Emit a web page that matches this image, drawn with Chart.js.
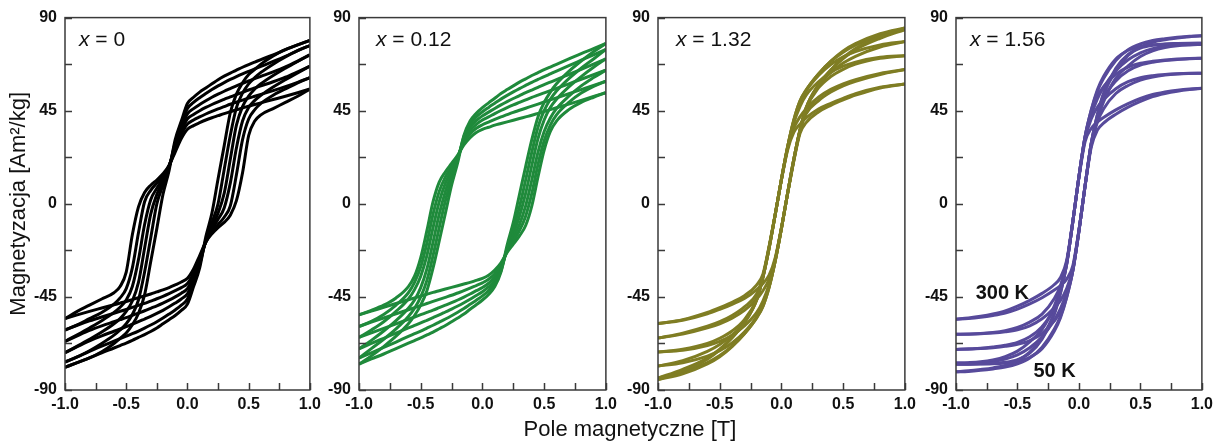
<!DOCTYPE html>
<html>
<head>
<meta charset="utf-8">
<script src="https://cdn.jsdelivr.net/npm/chart.js@4.4.1/dist/chart.umd.min.js"></script>
<style>
  html, body { margin: 0; padding: 0; background: #ffffff; }
  #figure { position: relative; width: 1232px; height: 445px; overflow: hidden; }
  #figure canvas { position: absolute; top: 0; }
  #xTitle {
    position: absolute; left: 380px; width: 500px; top: 417px;
    text-align: center; font: 22px/24px 'Liberation Sans', Arial, sans-serif; color: #111;
  }
</style>
</head>
<body>
<div id="figure">
  <canvas id="c0"></canvas>
  <canvas id="c1"></canvas>
  <canvas id="c2"></canvas>
  <canvas id="c3"></canvas>
  <div id="xTitle">Pole magnetyczne [T]</div>
</div>
<script>
// Magnetic field grids [T]
const fieldGridA = [-1.0, -0.9, -0.8, -0.7, -0.6, -0.55, -0.5, -0.45, -0.4, -0.35, -0.3, -0.25, -0.2, -0.15, -0.1, -0.05, 0.0, 0.05, 0.1, 0.15, 0.2, 0.25, 0.3, 0.35, 0.4, 0.45, 0.5, 0.55, 0.6, 0.7, 0.8, 0.9, 1.0];
const fieldGridB = [-1.0, -0.8, -0.6, -0.5, -0.4, -0.3, -0.2, -0.15, -0.1, -0.05, 0.0, 0.05, 0.1, 0.15, 0.2, 0.3, 0.4, 0.5, 0.6, 0.8, 1.0];
const fieldGridC = [-1.0, -0.9, -0.8, -0.7, -0.6, -0.5, -0.4, -0.3, -0.2, -0.15, -0.1, -0.05, 0.0, 0.05, 0.1, 0.15, 0.2, 0.3, 0.4, 0.5, 0.6, 0.7, 0.8, 0.9, 1.0];

const temperatures = ['50 K', '100 K', '150 K', '200 K', '250 K', '300 K'];
const compositions = ['0', '0.12', '1.32', '1.56'];

// Axis ticks
const fieldTicks = [-1.0, -0.5, 0.0, 0.5, 1.0];
const fieldTickLabels = ['-1.0', '-0.5', '0.0', '0.5', '1.0'];
const magTicks = [-90, -45, 0, 45, 90];
const magTickLabels = ['-90', '-45', '0', '45', '90'];

// x = 0 : magnetization [Am2/kg], field decreasing (dec) and increasing (inc), on fieldGridA
const x0_dec50  = [-79, -76.8, -74.5, -71.5, -67.5, -65, -62.5, -58.5, -53, -44, -28, -12, 4.5, 16, 31, 40, 48.5, 51.5, 54, 56, 58, 60, 61.7, 63.2, 64.6, 66, 67.3, 68.5, 69.7, 72, 74.5, 76.8, 79];
const x0_inc50  = [-79, -76.8, -74.5, -72, -69.7, -68.5, -67.3, -66, -64.6, -63.2, -61.7, -60, -58, -56, -54, -51.5, -48.5, -40, -31, -16, -4.5, 12, 28, 44, 53, 58.5, 62.5, 65, 67.5, 71.5, 74.5, 76.8, 79];
const x0_dec100 = [-76.5, -74, -71, -67.5, -63.5, -61, -58, -53.5, -46.5, -33, -16.5, 0, 9, 17.5, 29.5, 38.5, 46, 49, 51.3, 53.3, 55.2, 57, 58.6, 60.1, 61.5, 62.8, 64, 65.2, 66.4, 68.8, 71.3, 74, 76.5];
const x0_inc100 = [-76.5, -74, -71.3, -68.8, -66.4, -65.2, -64, -62.8, -61.5, -60.1, -58.6, -57, -55.2, -53.3, -51.3, -49, -46, -38.5, -29.5, -17.5, -9, 0, 16.5, 33, 46.5, 53.5, 58, 61, 63.5, 67.5, 71, 74, 76.5];
const x0_dec150 = [-72, -68.8, -65.5, -62, -58, -55.5, -52, -47, -38, -21.5, -5, 4.5, 11, 18, 28.5, 37, 43.5, 46, 48, 49.8, 51.5, 53, 54.4, 55.7, 57, 58.2, 59.4, 60.5, 61.6, 63.8, 66.2, 69, 72];
const x0_inc150 = [-72, -69, -66.2, -63.8, -61.6, -60.5, -59.4, -58.2, -57, -55.7, -54.4, -53, -51.5, -49.8, -48, -46, -43.5, -37, -28.5, -18, -11, -4.5, 5, 21.5, 38, 47, 52, 55.5, 58, 62, 65.5, 68.8, 72];
const x0_dec200 = [-66.5, -63.3, -60, -56.5, -52.5, -50, -46.5, -40, -27, -10, 2, 7.5, 12.5, 18.5, 27, 35, 41, 43.2, 45, 46.6, 48, 49.3, 50.5, 51.7, 52.8, 53.9, 55, 56, 57, 59, 61.2, 63.8, 66.5];
const x0_inc200 = [-66.5, -63.8, -61.2, -59, -57, -56, -55, -53.9, -52.8, -51.7, -50.5, -49.3, -48, -46.6, -45, -43.2, -41, -35, -27, -18.5, -12.5, -7.5, -2, 10, 27, 40, 46.5, 50, 52.5, 56.5, 60, 63.3, 66.5];
const x0_dec250 = [-61, -58.5, -55.5, -52.5, -48.5, -45.5, -41, -31, -14, 1, 6.5, 10, 13.5, 18.5, 26, 33.5, 38.5, 40.5, 42, 43.4, 44.7, 45.9, 47, 48.1, 49.1, 50.1, 51.1, 52, 52.9, 54.7, 56.6, 58.7, 61];
const x0_inc250 = [-61, -58.7, -56.6, -54.7, -52.9, -52, -51.1, -50.1, -49.1, -48.1, -47, -45.9, -44.7, -43.4, -42, -40.5, -38.5, -33.5, -26, -18.5, -13.5, -10, -6.5, -1, 14, 31, 41, 45.5, 48.5, 52.5, 55.5, 58.5, 61];
const x0_dec300 = [-55.5, -52, -49, -46, -43, -40, -33, -15, -1.5, 5.5, 9, 11.5, 14.5, 18.5, 25, 31.5, 36, 37.8, 39.2, 40.5, 41.6, 42.6, 43.6, 44.5, 45.4, 46.3, 47.2, 48, 48.8, 50.4, 52, 53.7, 55.5];
const x0_inc300 = [-55.5, -53.7, -52, -50.4, -48.8, -48, -47.2, -46.3, -45.4, -44.5, -43.6, -42.6, -41.6, -40.5, -39.2, -37.8, -36, -31.5, -25, -18.5, -14.5, -11.5, -9, -5.5, 1.5, 15, 33, 40, 43, 46, 49, 52, 55.5];

// x = 0.12, on fieldGridA
const x012_dec50  = [-77.5, -73.5, -69, -64, -58, -54, -49, -42, -31, -18, -4.5, 9, 20, 33, 40, 43.8, 46.5, 48.8, 51, 53.3, 55.2, 57, 58.8, 60.4, 62, 63.4, 64.8, 66.1, 67.4, 70, 72.6, 75, 77.5];
const x012_inc50  = [-77.5, -75, -72.6, -70, -67.4, -66.1, -64.8, -63.4, -62, -60.4, -58.8, -57, -55.2, -53.3, -51, -48.8, -46.5, -43.8, -40, -33, -20, -9, 4.5, 18, 31, 42, 49, 54, 58, 64, 69, 73.5, 77.5];
const x012_dec100 = [-74.6, -70, -65.5, -60.5, -54.5, -50.5, -45, -37, -25, -11.5, 1.5, 12, 21.5, 32.5, 38.5, 42, 44.5, 46.6, 48.6, 50.6, 52.4, 54.1, 55.7, 57.2, 58.7, 60.1, 61.5, 62.8, 64.1, 66.8, 69.4, 72, 74.6];
const x012_inc100 = [-74.6, -72, -69.4, -66.8, -64.1, -62.8, -61.5, -60.1, -58.7, -57.2, -55.7, -54.1, -52.4, -50.6, -48.6, -46.6, -44.5, -42, -38.5, -32.5, -21.5, -12, -1.5, 11.5, 25, 37, 45, 50.5, 54.5, 60.5, 65.5, 70, 74.6];
const x012_dec150 = [-70.1, -66, -61.5, -56.5, -50.5, -46.5, -40.5, -31.5, -18.5, -5, 6, 14.5, 22, 31.5, 37, 40.2, 42.5, 44.3, 46.1, 47.8, 49.4, 50.9, 52.3, 53.7, 55, 56.3, 57.6, 58.8, 60, 62.5, 65, 67.5, 70.1];
const x012_inc150 = [-70.1, -67.5, -65, -62.5, -60, -58.8, -57.6, -56.3, -55, -53.7, -52.3, -50.9, -49.4, -47.8, -46.1, -44.3, -42.5, -40.2, -37, -31.5, -22, -14.5, -6, 5, 18.5, 31.5, 40.5, 46.5, 50.5, 56.5, 61.5, 66, 70.1];
const x012_dec200 = [-64.6, -61, -57, -52, -46, -41.5, -35, -25, -11.5, 1, 10, 16.5, 22.5, 30.5, 35.4, 38.4, 40.5, 42, 43.6, 45.1, 46.5, 47.8, 49, 50.2, 51.4, 52.5, 53.6, 54.7, 55.8, 58, 60.2, 62.4, 64.6];
const x012_inc200 = [-64.6, -62.4, -60.2, -58, -55.8, -54.7, -53.6, -52.5, -51.4, -50.2, -49, -47.8, -46.5, -45.1, -43.6, -42, -40.5, -38.4, -35.4, -30.5, -22.5, -16.5, -10, -1, 11.5, 25, 35, 41.5, 46, 52, 57, 61, 64.6];
const x012_dec250 = [-59.3, -56.8, -53.5, -49, -43, -38, -30.5, -19, -5, 6, 13, 18, 23, 29.5, 33.8, 36.5, 38.2, 39.5, 40.8, 42, 43.1, 44.2, 45.2, 46.2, 47.2, 48.2, 49.2, 50.2, 51.2, 53.2, 55.2, 57.2, 59.3];
const x012_inc250 = [-59.3, -57.2, -55.2, -53.2, -51.2, -50.2, -49.2, -48.2, -47.2, -46.2, -45.2, -44.2, -43.1, -42, -40.8, -39.5, -38.2, -36.5, -33.8, -29.5, -23, -18, -13, -6, 5, 19, 30.5, 38, 43, 49, 53.5, 56.8, 59.3];
const x012_dec300 = [-53.7, -51.5, -49, -45.5, -40, -35, -26, -13, 1, 10.5, 15.5, 19.5, 23.5, 28.5, 32, 34.5, 36, 37, 38, 38.8, 39.6, 40.4, 41.2, 42, 42.8, 43.7, 44.6, 45.5, 46.4, 48.2, 50, 51.9, 53.7];
const x012_inc300 = [-53.7, -51.9, -50, -48.2, -46.4, -45.5, -44.6, -43.7, -42.8, -42, -41.2, -40.4, -39.6, -38.8, -38, -37, -36, -34.5, -32, -28.5, -23.5, -19.5, -15.5, -10.5, -1, 13, 26, 35, 40, 45.5, 49, 51.5, 53.7];

// x = 1.32, on fieldGridB
const x132_dec50  = [-85, -80.7, -75.1, -70.6, -64.7, -57.5, -46.4, -35.6, -21.5, -5.1, 11.9, 27.5, 40.4, 49.6, 55, 62.8, 69, 73.9, 77.4, 82.2, 85];
const x132_inc50  = [-85, -82.2, -77.4, -73.9, -69, -62.8, -55, -49.6, -40.4, -27.5, -11.9, 5.1, 21.5, 35.6, 46.4, 57.5, 64.7, 70.6, 75.1, 80.7, 85];
const x132_dec100 = [-84.2, -80, -74.5, -70.2, -64.7, -57.5, -46.4, -35.6, -21.5, -5.1, 11.9, 27.5, 40.4, 49.6, 55, 62.8, 68.8, 73.3, 76.7, 81.4, 84.2];
const x132_inc100 = [-84.2, -81.4, -76.7, -73.3, -68.8, -62.8, -55, -49.6, -40.4, -27.5, -11.9, 5.1, 21.5, 35.6, 46.4, 57.5, 64.7, 70.2, 74.5, 80, 84.2];
const x132_dec150 = [-78.4, -75.8, -71.3, -68, -63.5, -57, -46, -35.5, -21.5, -5.1, 11.9, 27.5, 40, 48.5, 54.5, 62, 67.3, 71, 73.6, 76.8, 78.4];
const x132_inc150 = [-78.4, -76.8, -73.6, -71, -67.3, -62, -54.5, -48.5, -40, -27.5, -11.9, 5.1, 21.5, 35.5, 46, 57, 63.5, 68, 71.3, 75.8, 78.4];
const x132_dec200 = [-71.6, -70.3, -67.5, -65, -61.5, -56, -46, -35.5, -21.3, -5.1, 11.9, 27.2, 39, 47, 52.5, 59, 63.5, 66.5, 68.5, 70.8, 71.6];
const x132_inc200 = [-71.6, -70.8, -68.5, -66.5, -63.5, -59, -52.5, -47, -39, -27.2, -11.9, 5.1, 21.3, 35.5, 46, 56, 61.5, 65, 67.5, 70.3, 71.6];
const x132_dec250 = [-64.9, -62.5, -59.2, -57, -54, -49.8, -43.5, -35, -20.8, -5, 11.6, 26.7, 36.5, 42, 46, 51.5, 55.3, 58, 60, 63, 64.9];
const x132_inc250 = [-64.9, -63, -60, -58, -55.3, -51.5, -46, -42, -36.5, -26.7, -11.6, 5, 20.8, 35, 43.5, 49.8, 54, 57, 59.2, 62.5, 64.9];
const x132_dec300 = [-57.9, -56, -52.5, -50.2, -47.6, -44.4, -39.2, -34, -20.6, -5, 11.6, 26, 34.5, 38.5, 41.5, 45.8, 48.6, 51, 53.2, 56.3, 57.9];
const x132_inc300 = [-57.9, -56.3, -53.2, -51, -48.6, -45.8, -41.5, -38.5, -34.5, -26, -11.6, 5, 20.6, 34, 39.2, 44.4, 47.6, 50.2, 52.5, 56, 57.9];

// x = 1.56, on fieldGridC
const x156_dec50  = [-81.2, -80.75, -80.1, -79.3, -78.1, -75.8, -71.7, -64.5, -52.7, -43, -29.2, -8.8, 13.2, 32.5, 45.1, 54.3, 60.5, 69.3, 74.5, 77.3, 78.9, 79.8, 80.5, 81, 81.2];
const x156_inc50  = [-81.2, -81, -80.5, -79.8, -78.9, -77.3, -74.5, -69.3, -60.5, -54.3, -45.1, -32.5, -13.2, 8.8, 29.2, 43, 52.7, 64.5, 71.7, 75.8, 78.1, 79.3, 80.1, 80.75, 81.2];
const x156_dec100 = [-77.6, -77.5, -77.35, -77.1, -76.6, -75.3, -72.2, -65.5, -53.4, -43.1, -29.2, -8.8, 13.2, 32.5, 45.4, 55.1, 61.5, 70, 74.2, 76.1, 76.9, 77.3, 77.45, 77.55, 77.6];
const x156_inc100 = [-77.6, -77.55, -77.45, -77.3, -76.9, -76.1, -74.2, -70, -61.5, -55.1, -45.4, -32.5, -13.2, 8.8, 29.2, 43.1, 53.4, 65.5, 72.2, 75.3, 76.6, 77.1, 77.35, 77.5, 77.6];
const x156_dec150 = [-77, -76.8, -76.4, -75.5, -73.9, -71.2, -66.7, -60.7, -49.3, -40.8, -28.9, -8.8, 13.2, 32, 42.7, 50.7, 56.2, 64.3, 69.6, 73, 75, 76.1, 76.7, 76.95, 77];
const x156_inc150 = [-77, -76.95, -76.7, -76.1, -75, -73, -69.6, -64.3, -56.2, -50.7, -42.7, -32, -13.2, 8.8, 28.9, 40.8, 49.3, 60.7, 66.7, 71.2, 73.9, 75.5, 76.4, 76.8, 77];
const x156_dec200 = [-70.4, -70.1, -69.8, -69.2, -68.4, -67, -64.3, -59.4, -50.6, -42, -29.2, -8.8, 13.2, 32.4, 44, 52, 56.6, 62.7, 66.1, 67.9, 68.9, 69.55, 70, 70.25, 70.4];
const x156_inc200 = [-70.4, -70.25, -70, -69.55, -68.9, -67.9, -66.1, -62.7, -56.6, -52, -44, -32.4, -13.2, 8.8, 29.2, 42, 50.6, 59.4, 64.3, 67, 68.4, 69.2, 69.8, 70.1, 70.4];
const x156_dec250 = [-63.1, -62.95, -62.7, -62.2, -61.3, -59.8, -57.2, -53.3, -45.8, -39.5, -28.3, -8.6, 12.9, 31.3, 41, 46.7, 50.3, 55.6, 59, 60.9, 61.9, 62.5, 62.85, 63.05, 63.1];
const x156_inc250 = [-63.1, -63.05, -62.85, -62.5, -61.9, -60.9, -59, -55.6, -50.3, -46.7, -41, -31.3, -12.9, 8.6, 28.3, 39.5, 45.8, 53.3, 57.2, 59.8, 61.3, 62.2, 62.7, 62.95, 63.1];
const x156_dec300 = [-55.8, -55.2, -54.4, -53.3, -51.8, -49.5, -46.7, -43.3, -39, -35.6, -27.4, -8.4, 12.6, 30, 36.4, 39.5, 41.7, 45.4, 48.4, 50.9, 52.8, 54, 54.9, 55.5, 55.8];
const x156_inc300 = [-55.8, -55.5, -54.9, -54, -52.8, -50.9, -48.4, -45.4, -41.7, -39.5, -36.4, -30, -12.6, 8.4, 27.4, 35.6, 39, 43.3, 46.7, 49.5, 51.8, 53.3, 54.4, 55.2, 55.8];

// ---- drawing ----
const FONT = "'Liberation Sans', Arial, sans-serif";

const panels = [
  { id: 'c0', comp: compositions[0], color: '#000000', field: fieldGridA,
    dec: [x0_dec50, x0_dec100, x0_dec150, x0_dec200, x0_dec250, x0_dec300],
    inc: [x0_inc50, x0_inc100, x0_inc150, x0_inc200, x0_inc250, x0_inc300],
    canvasLeft: 0, axisWidth: 65, plotWidth: 247, labelOffset: 14, yTitle: true },
  { id: 'c1', comp: compositions[1], color: '#1f8a3b', field: fieldGridA,
    dec: [x012_dec50, x012_dec100, x012_dec150, x012_dec200, x012_dec250, x012_dec300],
    inc: [x012_inc50, x012_inc100, x012_inc150, x012_inc200, x012_inc250, x012_inc300],
    canvasLeft: 309, axisWidth: 50, plotWidth: 249, labelOffset: 17 },
  { id: 'c2', comp: compositions[2], color: '#7f7d23', field: fieldGridB,
    dec: [x132_dec50, x132_dec100, x132_dec150, x132_dec200, x132_dec250, x132_dec300],
    inc: [x132_inc50, x132_inc100, x132_inc150, x132_inc200, x132_inc250, x132_inc300],
    canvasLeft: 608, axisWidth: 50, plotWidth: 249, labelOffset: 18 },
  { id: 'c3', comp: compositions[3], color: '#574a9b', field: fieldGridC,
    dec: [x156_dec50, x156_dec100, x156_dec150, x156_dec200, x156_dec250, x156_dec300],
    inc: [x156_inc50, x156_inc100, x156_inc150, x156_inc200, x156_inc250, x156_inc300],
    canvasLeft: 906, axisWidth: 50, plotWidth: 248, labelOffset: 14, tempLabels: true }
];

const RIGHT_PAD = 14, TOP_PAD = 16, X_AXIS_H = 40, CANVAS_H = 430, TICK_LEN = 7;

function labelFor(value, vals, labels) {
  for (let i = 0; i < vals.length; i++) {
    if (Math.abs(value - vals[i]) < 1e-6) return labels[i];
  }
  return '';
}

// frame, inward tick marks and in-plot annotations
const framePlugin = {
  id: 'frameAndTicks',
  afterDatasetsDraw(chart, args, opts) {
    const { ctx, chartArea: a, scales: { x, y } } = chart;
    ctx.save();
    ctx.strokeStyle = '#3a3a3a';
    ctx.lineWidth = 1.5;
    ctx.beginPath();
    x.ticks.forEach(t => {
      const px = Math.round(x.getPixelForValue(t.value)) + 0.5;
      ctx.moveTo(px, a.bottom); ctx.lineTo(px, a.bottom - TICK_LEN);
    });
    y.ticks.forEach(t => {
      const py = Math.round(y.getPixelForValue(t.value)) + 0.5;
      ctx.moveTo(a.left, py); ctx.lineTo(a.left + TICK_LEN, py);
    });
    ctx.stroke();
    ctx.strokeRect(a.left, a.top, a.right - a.left, a.bottom - a.top);

    // composition label
    ctx.fillStyle = '#111';
    ctx.textBaseline = 'alphabetic';
    ctx.textAlign = 'left';
    const lx = a.left + opts.labelOffset, ly = a.top + 28;
    ctx.font = 'italic 21px ' + FONT;
    ctx.fillText('x', lx, ly);
    const w = ctx.measureText('x').width;
    ctx.font = '21px ' + FONT;
    ctx.fillText(' = ' + opts.comp, lx + w, ly);

    if (opts.tempLabels) {
      ctx.font = 'bold 20px ' + FONT;
      ctx.fillText(temperatures[5], x.getPixelForValue(-0.84), y.getPixelForValue(-46));
      ctx.fillText(temperatures[0], x.getPixelForValue(-0.37), y.getPixelForValue(-83.5));
    }
    ctx.restore();
  }
};

panels.forEach(p => {
  const canvas = document.getElementById(p.id);
  const width = p.axisWidth + p.plotWidth + RIGHT_PAD;
  canvas.width = width; canvas.height = CANVAS_H;
  canvas.style.left = p.canvasLeft + 'px';
  canvas.style.width = width + 'px'; canvas.style.height = CANVAS_H + 'px';

  const datasets = [];
  p.dec.forEach((branch, k) => {
    [branch, p.inc[k]].forEach(series => {
      datasets.push({
        label: temperatures[k],
        data: series.map((m, j) => ({ x: p.field[j], y: m })),
        borderColor: p.color,
        borderWidth: 3,
        pointRadius: 0,
        fill: false,
        cubicInterpolationMode: 'monotone'
      });
    });
  });

  new Chart(canvas, {
    type: 'line',
    data: { datasets },
    plugins: [framePlugin],
    options: {
      responsive: false,
      animation: false,
      devicePixelRatio: 1,
      layout: { padding: { top: TOP_PAD, right: RIGHT_PAD, left: 0, bottom: 0 } },
      plugins: {
        legend: { display: false },
        tooltip: { enabled: false },
        frameAndTicks: { labelOffset: p.labelOffset, comp: p.comp, tempLabels: !!p.tempLabels }
      },
      scales: {
        x: {
          type: 'linear', min: -1, max: 1,
          grid: { display: false, drawTicks: false },
          border: { display: false },
          ticks: {
            stepSize: 0.25, autoSkip: false, maxRotation: 0, padding: 5,
            color: '#111', font: { family: FONT, size: 16, weight: 'bold' },
            callback: v => labelFor(v, fieldTicks, fieldTickLabels)
          },
          afterFit: s => { s.height = X_AXIS_H; }
        },
        y: {
          type: 'linear', min: -90, max: 90,
          grid: { display: false, drawTicks: false },
          border: { display: false },
          ticks: {
            stepSize: 22.5, autoSkip: false, padding: 8,
            color: '#111', font: { family: FONT, size: 16, weight: 'bold' },
            callback: v => labelFor(v, magTicks, magTickLabels)
          },
          title: {
            display: !!p.yTitle, text: 'Magnetyzacja [Am²/kg]', color: '#111',
            font: { family: FONT, size: 22 }, padding: { top: 6, bottom: 0 }
          },
          afterFit: s => { s.width = p.axisWidth; }
        }
      }
    }
  });
});
</script>
</body>
</html>
